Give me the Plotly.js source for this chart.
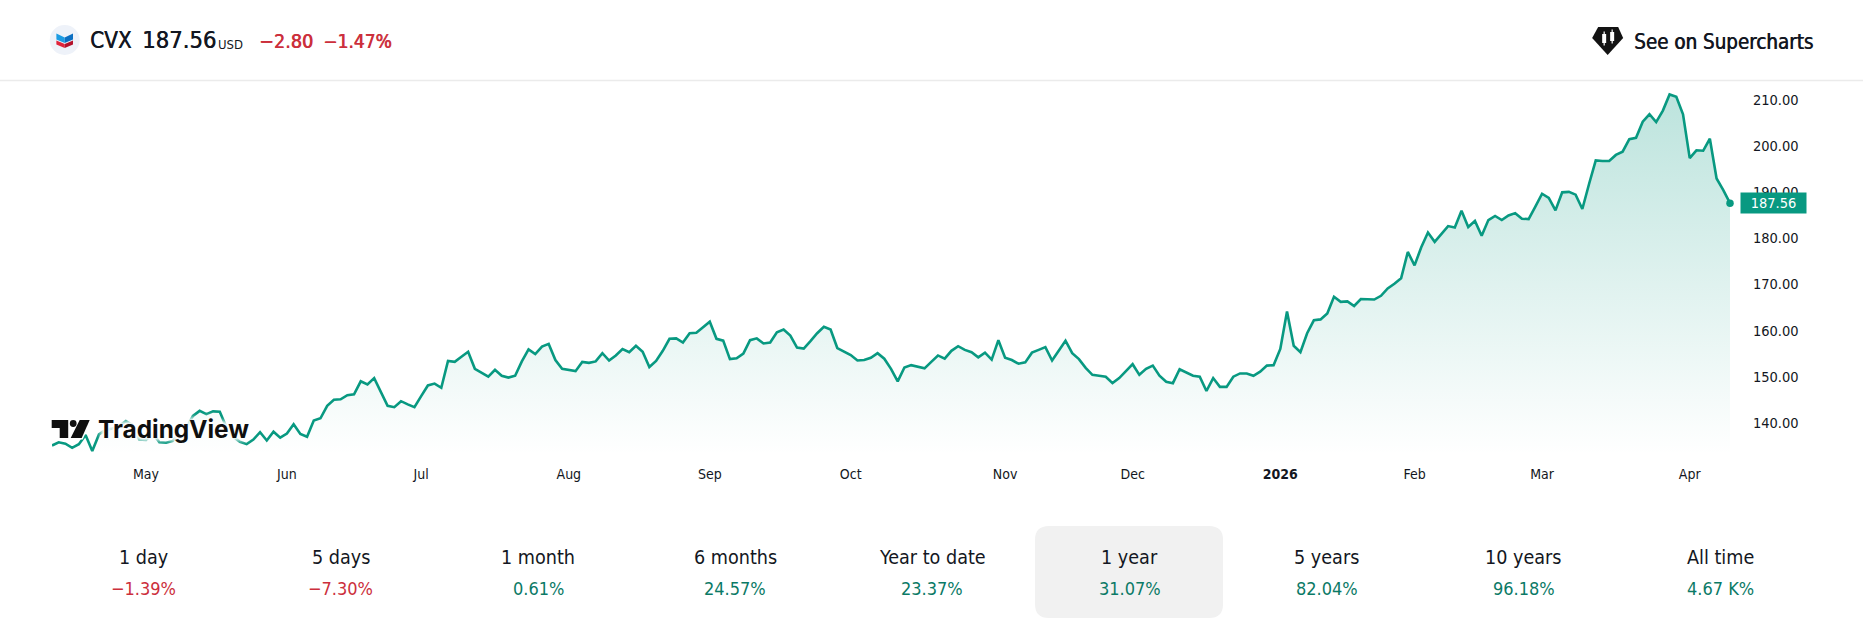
<!DOCTYPE html>
<html><head><meta charset="utf-8">
<script src="https://cdn.plot.ly/plotly-3.0.1.min.js"></script>
<style>html,body{margin:0;padding:0;background:#fff}#chart{width:1863px;height:623px}</style>
</head><body><div id="chart"></div>
<script>
const closes = [
135.1,135.8,135.5,134.6,135.4,137.4,133.9,137.5,138.5,138.8,
139.3,140.4,139.5,136.4,136.3,137.7,135.8,135.7,136.1,138.1,
138.8,141.5,142.6,141.9,142.5,142.4,139.0,137.0,135.9,135.4,
136.4,138.0,136.2,138.1,136.8,137.7,139.7,137.6,137.0,140.5,
141.0,143.7,145.0,145.1,146.0,146.2,149.0,148.3,
149.7,146.8,143.7,143.4,144.7,144.0,143.4,145.8,148.1,148.5,
147.6,153.4,153.2,154.3,155.4,151.7,150.9,150.0,151.5,150.2,
149.8,150.2,153.3,155.9,154.9,156.5,157.1,153.6,151.7,151.5,
151.2,153.2,153.0,153.3,155.1,153.5,154.6,156.0,155.3,156.7,
155.4,152.1,153.4,155.6,158.2,158.3,157.4,159.4,
159.5,160.7,161.9,158.2,157.8,153.8,154.0,155.0,157.9,158.3,
157.2,157.4,159.6,160.2,158.9,156.3,156.1,157.7,159.4,160.8,
160.2,156.2,155.4,154.7,153.5,153.6,154.1,155.1,153.9,151.7,
149.0,152.0,152.5,152.2,151.8,153.2,154.6,153.9,155.6,156.6,
155.8,155.3,154.2,155.2,153.7,157.9,154.1,153.6,
152.8,153.1,155.2,155.8,156.4,153.5,155.7,157.8,155.1,153.8,
151.9,150.4,150.2,150.0,148.6,149.7,151.2,152.7,150.4,151.7,
152.4,150.2,148.9,148.6,151.6,150.9,150.2,150.0,146.9,149.7,
147.8,147.8,150.0,150.7,150.7,150.2,151.1,152.4,152.5,156.0,
164.1,156.7,155.3,159.4,162.2,162.4,163.7,
167.3,166.2,166.3,165.3,166.8,166.7,166.7,167.5,169.1,170.1,
171.3,177.0,174.1,178.0,181.2,179.2,180.9,182.6,182.3,185.9,
182.4,183.7,180.5,183.9,184.8,183.9,184.9,185.4,184.2,184.1,
186.8,189.6,188.7,186.0,189.9,190.0,189.4,186.3,191.7,196.8,
196.7,196.7,
198.0,198.7,201.4,201.7,205.2,206.8,205.1,207.6,211.1,210.6,
206.8,197.3,199.0,198.9,201.5,192.9,190.4,187.56
];
const sessions = closes.map((_, i) => i);
const monthLabels = ['May','Jun','Jul','Aug','Sep','Oct','Nov','Dec','<b>2026</b>','Feb','Mar','Apr'];
const monthSessions = [14,35,55,77,98,119,142,161,183,203,222,244];
const priceTicks = [140,150,160,170,180,190,200,210];
const periodLabels = ['1 day','5 days','1 month','6 months','Year to date','1 year','5 years','10 years','All time'];
const periodReturns = ['−1.39%','−7.30%','0.61%','24.57%','23.37%','31.07%','82.04%','96.18%','4.67 K%'];
const lastPrice = 187.56;

const W = 1863, H = 623, L = 52.3, R = 1729.8, T = 81, B = 455;
const px = x => (x - L) / (R - L);
const py = y => (B - y) / (B - T);
const FONT = '"DejaVu Sans Condensed", "DejaVu Sans", sans-serif';
const INK = '#131722', RED = '#cc2f3c', GREEN = '#0b7a66', LINE = '#089981';
const semi = c => `0.6px 0 0 ${c}`;

function label(text, x, y, size, color, anchor, semibold) {
  return {text, xref:'paper', yref:'paper', x:px(x), y:py(y), showarrow:false,
    xanchor:anchor||'center', yanchor:'middle', borderpad:0, borderwidth:0,
    font:{family:FONT, size, color, shadow: semibold ? semi(color) : 'none'}};
}
function poly(pts, fill, stroke) {
  const d = pts.map((p,i)=>(i?'L':'M')+px(p[0]).toFixed(5)+','+py(p[1]).toFixed(5)).join(' ')+' Z';
  return {type:'path', xref:'paper', yref:'paper', path:d, fillcolor:fill, layer:'above',
    line:stroke?{color:stroke,width:3}:{width:0}};
}
function circle(cx, cy, r, fill, stroke) {
  return {type:'circle', xref:'paper', yref:'paper', x0:px(cx-r), x1:px(cx+r), y0:py(cy+r), y1:py(cy-r),
    fillcolor:fill, layer:'above', line:stroke?{color:stroke,width:3}:{width:0}};
}
function roundRect(x0,y0,x1,y1,r,fill){
  const X=px, Y=py;
  const d=`M${X(x0+r)},${Y(y0)} L${X(x1-r)},${Y(y0)} Q${X(x1)},${Y(y0)} ${X(x1)},${Y(y0+r)} L${X(x1)},${Y(y1-r)} Q${X(x1)},${Y(y1)} ${X(x1-r)},${Y(y1)} L${X(x0+r)},${Y(y1)} Q${X(x0)},${Y(y1)} ${X(x0)},${Y(y1-r)} L${X(x0)},${Y(y0+r)} Q${X(x0)},${Y(y0)} ${X(x0+r)},${Y(y0)} Z`;
  return {type:'path',xref:'paper',yref:'paper',path:d,fillcolor:fill,line:{width:0},layer:'below'};
}

const logoPts = {
  bar:[[52,420],[68.5,420],[68.5,438],[60,438],[60,428],[52,428]],
  slash:[[90,420],[80,420],[71,438],[82,438]]
};
const shapes = [
  {type:'line',xref:'paper',yref:'paper',x0:px(0),x1:px(W),y0:py(80.5),y1:py(80.5),line:{color:'#ebebeb',width:1.5},layer:'below'},
  roundRect(1035,526,1223,618,14,'#f1f1f1'),
  circle(65,40,15,'#eef2f9'),
  poly([[56.7,33.5],[65,37.5],[65,43],[56.7,39.5]],'#1c9ce3'),
  poly([[73.3,33.5],[65,37.5],[65,43],[73.3,39.5]],'#0b6fc2'),
  poly([[56.7,40.5],[65,44],[65,48],[56.7,44.5]],'#e0243a'),
  poly([[73.3,40.5],[65,44],[65,48],[73.3,44.5]],'#b4122c'),
  poly([[1598,27],[1618,27],[1623,38],[1607.5,55],[1592,38]],'#131313'),
  poly([[1602,34],[1606,34],[1606,43],[1602,43]],'#ffffff'),
  poly([[1603.4,31.5],[1604.6,31.5],[1604.6,45.5],[1603.4,45.5]],'#ffffff'),
  poly([[1610,32],[1614,32],[1614,41],[1610,41]],'#ffffff'),
  poly([[1611.4,29.5],[1612.6,29.5],[1612.6,43.5],[1611.4,43.5]],'#ffffff'),
  poly(logoPts.bar,'#ffffff','#ffffff'),
  poly(logoPts.slash,'#ffffff','#ffffff'),
  poly(logoPts.bar,'#0f0f0f'),
  poly(logoPts.slash,'#0f0f0f'),
  circle(73.5,423.5,3.4,'#0f0f0f')
];

const annotations = [
  label('CVX',90,40,22.3,INK,'left',true),
  label('187.56',142.5,40,23.6,INK,'left',true),
  label('USD',218.5,44,13,INK,'left',false),
  label('−2.80',259,41,19.6,RED,'left',true),
  label('−1.47%',323,41,19,RED,'left',true),
  label('See on Supercharts',1634,42,20.4,INK,'left',true),
  {text:'TradingView', xref:'paper', yref:'paper', x:px(97), y:py(429), showarrow:false, xanchor:'left', yanchor:'middle',
   borderpad:0, font:{family:'Inter, sans-serif', size:24.4, weight:700, color:'#0f0f0f',
   shadow:'0 0 3px #fff, 0 0 4px #fff, 0 0 5px #fff, 0 0 6px #fff, 0 0 6px #fff, 0 0 7px #fff, 0 0 7px #fff'}},
  {text:lastPrice.toFixed(2), xref:'x', yref:'y', x:250, y:lastPrice, showarrow:false, xanchor:'left', yanchor:'middle',
   xshift:9.5, width:65, height:20, align:'center', bgcolor:LINE, borderpad:0,
   font:{family:FONT,size:14.5,color:'#ffffff'}}
];
periodLabels.forEach((t,i)=>{
  const cx = 144 + 197.1*i;
  annotations.push(label(t,cx,557.5,19.6,INK,'center',false));
  annotations.push(label(periodReturns[i],cx,588,18,periodReturns[i][0]==='−'?RED:GREEN,'center',false));
});

const data = [
  {x:sessions,y:closes,type:'scatter',mode:'none',fill:'tozeroy',hoverinfo:'skip',
   fillgradient:{type:'vertical',start:133.05,stop:211.1,
     colorscale:[[0,'rgba(8,153,129,0)'],[1,'rgba(8,153,129,0.27)']]}},
  {x:sessions,y:closes,type:'scatter',mode:'lines',line:{color:LINE,width:2.6},cliponaxis:false},
  {x:[sessions[sessions.length-1]],y:[lastPrice],type:'scatter',mode:'markers',marker:{color:LINE,size:7.5},cliponaxis:false}
];
const layout = {
  width:W,height:H,showlegend:false,paper_bgcolor:'#fff',plot_bgcolor:'rgba(0,0,0,0)',
  margin:{l:L,r:W-R,t:T,b:H-B,pad:0},
  xaxis:{range:[0,250],tickmode:'array',tickvals:monthSessions,ticktext:monthLabels,showgrid:false,zeroline:false,
    showline:false,ticks:'outside',ticklen:6,tickcolor:'rgba(0,0,0,0)',tickfont:{family:FONT,size:14,color:INK}},
  yaxis:{range:[133.05,214],side:'right',tickmode:'array',tickvals:priceTicks,ticktext:priceTicks.map(v=>v.toFixed(2)),showgrid:false,zeroline:false,
    showline:false,ticks:'outside',ticklen:19,tickcolor:'rgba(0,0,0,0)',tickfont:{family:FONT,size:14.5,color:INK}},
  shapes,annotations
};
Plotly.newPlot('chart',data,layout,{displayModeBar:false,staticPlot:true});
</script></body></html>
